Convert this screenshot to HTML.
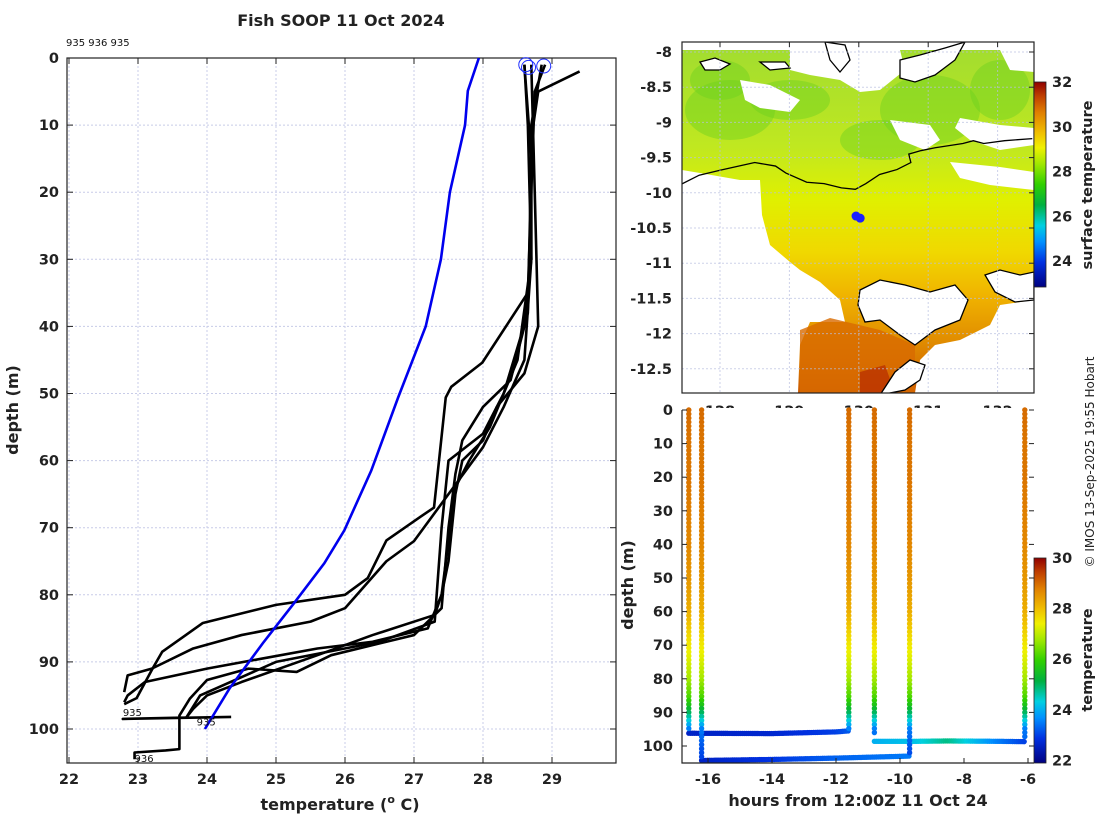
<!DOCTYPE html>
<html><head><meta charset="utf-8">
<style>
html,body{margin:0;padding:0;background:#fff;}
svg{display:block;font-family:"DejaVu Sans","Liberation Sans",sans-serif;}
.tk{font-size:14.5px;font-weight:bold;fill:#222;}
.ttl{font-size:16px;font-weight:bold;fill:#222;}
</style></head>
<body>
<svg id="fig" width="1100" height="820" viewBox="0 0 1100 820" xmlns="http://www.w3.org/2000/svg">
<defs>
<linearGradient id="cbgrad" x1="0" y1="1" x2="0" y2="0">
<stop offset="0" stop-color="#000080"/><stop offset="0.12" stop-color="#0030e0"/><stop offset="0.22" stop-color="#0090ff"/>
<stop offset="0.3" stop-color="#00d0e0"/><stop offset="0.4" stop-color="#00b040"/><stop offset="0.5" stop-color="#30d000"/>
<stop offset="0.6" stop-color="#a0e800"/><stop offset="0.68" stop-color="#f0f000"/><stop offset="0.75" stop-color="#f0c000"/>
<stop offset="0.85" stop-color="#e08000"/><stop offset="0.93" stop-color="#c04000"/><stop offset="1" stop-color="#900000"/>
</linearGradient>
<linearGradient id="sstgrad" x1="0" y1="0" x2="0" y2="1">
<stop offset="0" stop-color="#a0dc30"/><stop offset="0.3" stop-color="#c0e820"/><stop offset="0.45" stop-color="#e0f000"/>
<stop offset="0.6" stop-color="#f0d800"/><stop offset="0.72" stop-color="#f0b400"/><stop offset="0.86" stop-color="#e08a00"/><stop offset="1" stop-color="#cc5a00"/>
</linearGradient>
<clipPath id="mapclip"><rect x="682" y="42" width="352" height="351"/></clipPath>
</defs>
<g id="left"></g>
<g id="map"></g>
<g id="bot"></g>
<text x="341" y="26" text-anchor="middle" class="ttl">Fish SOOP 11 Oct 2024</text>
<text x="66" y="46" font-size="10" fill="#111">935 936 935</text>
<text transform="translate(1094,462) rotate(-90)" text-anchor="middle" font-size="12" fill="#222">© IMOS 13-Sep-2025 19:55 Hobart</text>
</svg>
<script>
// ---------- data: left panel ----------
const xTicksL = [22,23,24,25,26,27,28,29];
const yTicksL = [0,10,20,30,40,50,60,70,80,90,100];
const climTemp = [27.94,27.78,27.74,27.52,27.39,27.17,26.77,26.38,25.99,25.7,25.25,24.81,24.33,23.97];
const climDepth = [0,4.9,10,20,30,40,50.6,61.5,70.4,75.3,81.4,87.2,93.9,100];
const prof1T = [28.9,28.75,28.7,28.65,27.99,27.54,27.46,27.29,27.09,26.6,26.33,26.0,25.0,23.94,23.35,23.2,22.98,22.8];
const prof1D = [1,5,20,35,45.4,49,50.6,67,68.4,71.9,77.5,80,81.5,84.2,88.5,91.2,95.4,96.3];
const prof2T = [28.6,28.65,28.7,28.6,28.4,28.0,27.7,27.6,27.5,27.45,27.4,27.0,25.8,25.3,24.6,24.0,23.75,23.6,23.6,23.4,22.95,22.95];
const prof2D = [1,10,30,40,48,52,57,62,70,76,82,86,89,91.5,91,92.7,95.5,98,103,103.2,103.5,104.5];
const prof3T = [28.85,28.7,28.7,28.5,28.1,27.8,27.6,27.4,27.2,26.4,25.6,24.8,24.0,23.1,22.85,22.8];
const prof3D = [1,10,30,45,55,60,64,80,85,87,88,89.5,91,93,95,96];
const prof4T = [28.7,28.75,28.8,28.6,28.2,28.0,27.7,27.6,27.5,27.4,27.3,26.4,25.6,24.5,24.0,23.8,23.7];
const prof4D = [1,20,40,47,52,57,60,65,75,80,83,86,89,93,95,97,98.3];
const prof5T = [29.4,28.8,28.7,28.7,28.6,28.3,28.0,27.5,27.0,26.6,26.0,25.5,24.5,23.8,23.2,22.85,22.8];
const prof5D = [2,5,12,30,45,52,58,65,72,75,82,84,86,88,91,92,94.5];
const prof6T = [28.6,28.7,28.65,28.3,28.0,27.5,27.4,27.3,26.5,25.0,23.9,23.7,22.78,24.35];
const prof6D = [1,15,38,50,56,60,70,84,87,90,95,98.3,98.5,98.2];
const circT = [28.62,28.66,28.88];
const circD = [1.0,1.4,1.2];

// ---------- data: map ----------
const latTicks = [-8,-8.5,-9,-9.5,-10,-10.5,-11,-11.5,-12,-12.5];
const lonTicks = [128,129,130,131,132];
const coastLon = [127.1,127.4,127.7,128.0,128.5,128.8,128.95,129.25,129.5,129.75,129.95,130.1,130.3,130.55,130.75,130.72,130.9,131.1,131.5,131.65,131.8,132.1,132.5];
const coastLat = [-10.08,-9.9,-9.75,-9.68,-9.57,-9.62,-9.72,-9.85,-9.87,-9.93,-9.95,-9.87,-9.74,-9.67,-9.57,-9.45,-9.4,-9.36,-9.3,-9.26,-9.3,-9.26,-9.23];
const shipLon = [129.96,130.02];
const shipLat = [-10.33,-10.36];
const sstTicks = [24,26,28,30,32];
const sstMin = 22.85, sstMax = 32;

// ---------- data: bottom panel ----------
const hourTicks = [-16,-14,-12,-10,-8,-6];
const yTicksB = [0,10,20,30,40,50,60,70,80,90,100];
const castHours = [-16.6,-16.2,-11.6,-10.8,-9.7,-6.1];
const castMaxDepth = [95,104,95,97,103,98];
const profDepths = [0,10,20,30,40,50,60,70,75,80,85,88,90,93,95,100,104];
const profTemps = [29.0,28.9,28.9,28.8,28.7,28.5,28.2,27.5,27.2,26.8,26.2,25.6,25.0,24.2,23.5,23.2,23.0];
const tow1H = [-16.6,-14,-12,-11.6]; const tow1D = [96.2,96.3,95.8,95.5]; const tow1T = [22.6,22.7,23.0,23.2];
const tow2H = [-16.2,-14,-12,-9.7];  const tow2D = [104.3,104,103.6,103];  const tow2T = [22.6,22.9,23.3,23.5];
const tow3H = [-10.8,-9.5,-8.5,-7,-6.1]; const tow3D = [98.6,98.6,98.5,98.6,98.7]; const tow3T = [24.0,24.2,24.8,23.6,23.0];
const tMinB = 21.9, tMaxB = 30;
const cbTicksB = [22,24,26,28,30];

const NS = "http://www.w3.org/2000/svg";
function mk(parent, tag, attrs){const e=document.createElementNS(NS,tag);for(const k in attrs)e.setAttribute(k,attrs[k]);parent.appendChild(e);return e;}

const cmStops=[[0,[0,0,128]],[0.12,[0,48,224]],[0.22,[0,144,255]],[0.3,[0,208,224]],[0.4,[0,176,64]],[0.5,[48,208,0]],[0.6,[160,232,0]],[0.68,[240,240,0]],[0.75,[240,192,0]],[0.85,[224,128,0]],[0.93,[192,64,0]],[1,[144,0,0]]];
function cmap(f){f=Math.max(0,Math.min(1,f));for(let i=1;i<cmStops.length;i++){if(f<=cmStops[i][0]){const a=cmStops[i-1],b=cmStops[i];const u=(f-a[0])/(b[0]-a[0]);const c=a[1].map((v,j)=>Math.round(v+(b[1][j]-v)*u));return `rgb(${c[0]},${c[1]},${c[2]})`;}}return 'rgb(144,0,0)';}
function interp(xs,ys,x){if(x<=xs[0])return ys[0];for(let i=1;i<xs.length;i++){if(x<=xs[i]){const u=(x-xs[i-1])/(xs[i]-xs[i-1]);return ys[i-1]+u*(ys[i]-ys[i-1]);}}return ys[ys.length-1];}

// ===== LEFT PANEL =====
const L=document.getElementById('left');
const lx=t=>69+(t-22)*69, ly=d=>58+d*6.71;
const LX0=67,LX1=616,LY0=58,LY1=763;
xTicksL.forEach(t=>{
  const g=mk(L,'line',{x1:lx(t),x2:lx(t),y1:LY0,y2:LY1,stroke:'#c8cce8','stroke-dasharray':'2,2','stroke-width':1});
  
  
  const tk=mk(L,'line',{x1:lx(t),x2:lx(t),y1:LY1,y2:LY1-6,stroke:'#222'});
  
  
  const tk2=mk(L,'line',{x1:lx(t),x2:lx(t),y1:LY0,y2:LY0+6,stroke:'#222'});
  
  
  const tx=mk(L,'text',{x:lx(t),y:784,'text-anchor':'middle',class:'tk'});tx.textContent=t;
  
  
});
yTicksL.forEach(d=>{
  const g=mk(L,'line',{x1:LX0,x2:LX1,y1:ly(d),y2:ly(d),stroke:'#c8cce8','stroke-dasharray':'2,2','stroke-width':1});
  
  
  const tk=mk(L,'line',{x1:LX0,x2:LX0+6,y1:ly(d),y2:ly(d),stroke:'#222'});
  
  
  const tk2=mk(L,'line',{x1:LX1,x2:LX1-6,y1:ly(d),y2:ly(d),stroke:'#222'});
  
  
  const tx=mk(L,'text',{x:59,y:ly(d)+5,'text-anchor':'end',class:'tk'});tx.textContent=d;
  
  
});
const lb=mk(L,'rect',{x:LX0,y:LY0,width:LX1-LX0,height:LY1-LY0,fill:'none',stroke:'#222','stroke-width':1.2});


const profs=[[prof1T,prof1D],[prof2T,prof2D],[prof3T,prof3D],[prof4T,prof4D],[prof5T,prof5D],[prof6T,prof6D]];
profs.forEach((p,i)=>{
  const pts=p[0].map((t,j)=>lx(t)+','+ly(p[1][j])).join(' ');
  const pl=mk(L,'polyline',{points:pts,fill:'none',stroke:'#000','stroke-width':2.6,'stroke-linejoin':'round'});
  
  
});
const cl=mk(L,'polyline',{points:climTemp.map((t,j)=>lx(t)+','+ly(climDepth[j])).join(' '),fill:'none',stroke:'#0000ee','stroke-width':2.6});


circT.forEach((t,i)=>{
  const c=mk(L,'circle',{cx:lx(t),cy:ly(circD[i]),r:7,fill:'none',stroke:'#2030ff','stroke-width':1});
  
  
});
[[lx(22.78),ly(96.3)+12,'935'],[lx(23.85),ly(98.3)+8,'935'],[lx(22.95),ly(104.3)+4,'936']].forEach(a=>{
  const t=mk(L,'text',{x:a[0],y:a[1],'font-size':10,fill:'#111'});t.textContent=a[2];
  
  
});
let t1=mk(L,'text',{transform:'translate(18,410) rotate(-90)','text-anchor':'middle',class:'ttl'});t1.textContent='depth (m)';


let t2=mk(L,'text',{x:340,y:810,'text-anchor':'middle',class:'ttl'});
t2.innerHTML='temperature (<tspan font-size="11" dy="-7">o</tspan><tspan dy="7"> C)</tspan>';



// ===== MAP PANEL =====
const M=document.getElementById('map');
const mx=lon=>720+(lon-128)*69.4, my=lat=>52+(-8-lat)*70.4;
const MX0=682,MX1=1034,MY0=42,MY1=393;
const mg=mk(M,'g',{'clip-path':'url(#mapclip)'});


mk(mg,'rect',{x:MX0,y:MY0,width:352,height:351,fill:'url(#sstgrad)'});
// greener mottled patches
[[730,110,45,30],[790,100,40,20],[930,110,50,35],[1000,90,30,30],[880,140,40,20],[720,80,30,20]].forEach(e=>mk(mg,'ellipse',{cx:e[0],cy:e[1],rx:e[2],ry:e[3],fill:'#6cd020',opacity:0.45}));
const whites=[
 [[682,170],[700,173],[740,180],[760,180],[762,215],[770,245],[790,262],[800,270],[820,282],[840,300],[845,322],[810,322],[800,345],[798,393],[682,393]],
 [[682,42],[1034,42],[1034,50],[682,50]],
 [[790,50],[900,50],[905,70],[880,90],[860,92],[840,80],[810,75],[790,70]],
 [[740,80],[770,85],[800,100],[790,112],[760,108],[745,100]],
 [[960,118],[1000,125],[1034,128],[1034,145],[1000,150],[970,140],[955,128]],
 [[890,120],[930,125],[940,140],[925,150],[900,140]],
 [[1000,50],[1034,50],[1034,72],[1010,70]],
 [[950,162],[1000,167],[1034,172],[1034,190],[990,185],[960,178]],
 [[1034,300],[1000,305],[990,325],[960,340],[935,345],[920,360],[915,393],[1034,393]],
 [[700,185],[715,200],[705,205]]
];
whites.forEach(p=>mk(mg,'polygon',{points:p.map(a=>a.join(',')).join(' '),fill:'#fff'}));
mk(mg,'polygon',{points:'800,330 830,318 880,330 915,345 915,393 800,393',fill:'#d86a00',opacity:0.8});
mk(mg,'polygon',{points:'860,372 885,365 892,385 880,393 860,393',fill:'#b02000',opacity:0.6});
const islands=[
 [[860,290],[880,280],[905,285],[930,292],[955,285],[968,300],[960,320],[935,330],[915,345],[900,335],[880,320],[865,322],[858,305]],
 [[985,275],[1000,270],[1020,275],[1034,272],[1034,300],[1015,302],[995,292]],
 [[880,395],[895,372],[910,360],[925,365],[920,380],[905,390]],
 [[900,60],[920,55],[945,48],[965,42],[955,60],[935,75],[915,82],[900,78]],
 [[700,62],[715,58],[730,64],[720,70],[705,70]],
 [[760,62],[785,62],[790,68],[770,70]],
 [[825,42],[845,45],[850,60],[840,72],[830,60]]
];
islands.forEach(p=>{const e=mk(mg,'polygon',{points:p.map(a=>a.join(',')).join(' '),fill:'#fff',stroke:'#000','stroke-width':1.3});
 
 });
const coast=mk(mg,'polyline',{points:coastLon.map((lo,i)=>mx(lo)+','+my(coastLat[i])).join(' '),fill:'none',stroke:'#000','stroke-width':1.3});


latTicks.forEach(la=>{
  const g=mk(M,'line',{x1:MX0,x2:MX1,y1:my(la),y2:my(la),stroke:'#b8c0e0','stroke-dasharray':'2,2',opacity:0.7});
  
  
  const tk=mk(M,'line',{x1:MX1,x2:MX1-5,y1:my(la),y2:my(la),stroke:'#222'});
  
  
  const tx=mk(M,'text',{x:672,y:my(la)+5,'text-anchor':'end',class:'tk'});tx.textContent=la;
  
  
});
lonTicks.forEach(lo=>{
  const g=mk(M,'line',{x1:mx(lo),x2:mx(lo),y1:MY0,y2:MY1,stroke:'#b8c0e0','stroke-dasharray':'2,2',opacity:0.7});
  
  
  const tk=mk(M,'line',{x1:mx(lo),x2:mx(lo),y1:MY0,y2:MY0+5,stroke:'#222'});
  
  
  const tx=mk(M,'text',{x:mx(lo),y:416,'text-anchor':'middle',class:'tk'});tx.textContent=lo;
  
  
});
shipLon.forEach((lo,i)=>{const c=mk(M,'circle',{cx:mx(lo),cy:my(shipLat[i]),r:4.5,fill:'#1a20ff'});
 
 });
const mf=mk(M,'rect',{x:MX0,y:MY0,width:352,height:351,fill:'none',stroke:'#222','stroke-width':1.2});


const sy=v=>82+(sstMax-v)/(sstMax-sstMin)*205;
const cb=mk(M,'rect',{x:1034,y:82,width:12,height:205,fill:'url(#cbgrad)',stroke:'#222','stroke-width':0.8});


sstTicks.forEach(v=>{const tx=mk(M,'text',{x:1052,y:sy(v)+5,class:'tk'});tx.textContent=v;
 
 });
let t3=mk(M,'text',{transform:'translate(1092,185) rotate(-90)','text-anchor':'middle',class:'tk'});t3.textContent='surface temperature';



// ===== BOTTOM PANEL =====
const B=document.getElementById('bot');
const bx=h=>708+(h+16)*32, by=d=>410+d*3.36;
const BX0=682,BX1=1034,BY0=408,BY1=763;
mk(B,'rect',{x:BX0,y:BY0,width:352,height:BY1-BY0,fill:'#fff'});
const bcol=t=>cmap((t-tMinB)/(tMaxB-tMinB));
function dot(h,d,t,name){const c=mk(B,'circle',{cx:bx(h),cy:by(d),r:2.7,fill:bcol(t)});
 
 }
[[tow1H,tow1D,tow1T],[tow2H,tow2D,tow2T],[tow3H,tow3D,tow3T]].forEach((tw,k)=>{
  for(let h=tw[0][0];h<=tw[0][tw[0].length-1];h+=0.06){dot(h,interp(tw[0],tw[1],h),interp(tw[0],tw[2],h),'tow-point-'+(k+1));}
});
castHours.forEach((h,k)=>{
  for(let d=0;d<=castMaxDepth[k];d+=1.2){dot(h,d,interp(profDepths,profTemps,d),'cast-point-'+(k+1));}
});
hourTicks.forEach(h=>{
  const tk=mk(B,'line',{x1:bx(h),x2:bx(h),y1:BY1,y2:BY1-5,stroke:'#222'});
  
  
  const tx=mk(B,'text',{x:bx(h),y:784,'text-anchor':'middle',class:'tk'});tx.textContent=h;
  
  
});
yTicksB.forEach(d=>{
  const tk=mk(B,'line',{x1:BX0,x2:BX0+5,y1:by(d),y2:by(d),stroke:'#222'});
  
  
  const tk2=mk(B,'line',{x1:BX1,x2:BX1-5,y1:by(d),y2:by(d),stroke:'#222'});
  
  
  const tx=mk(B,'text',{x:673,y:by(d)+5,'text-anchor':'end',class:'tk'});tx.textContent=d;
  
  
});
const bl=mk(B,'path',{d:`M${BX0},${BY0+2} V${BY1} H${BX1}`,fill:'none',stroke:'#222','stroke-width':1.2});


const ty=v=>558+(tMaxB-v)/(tMaxB-tMinB)*205;
const cb2=mk(B,'rect',{x:1034,y:558,width:12,height:205,fill:'url(#cbgrad)',stroke:'#222','stroke-width':0.8});


cbTicksB.forEach(v=>{const tx=mk(B,'text',{x:1052,y:ty(v)+5,class:'tk'});tx.textContent=v;
 
 });
let t4=mk(B,'text',{transform:'translate(1092,660) rotate(-90)','text-anchor':'middle',class:'tk'});t4.textContent='temperature';


let t5=mk(B,'text',{transform:'translate(633,585) rotate(-90)','text-anchor':'middle',class:'ttl'});t5.textContent='depth (m)';


let t6=mk(B,'text',{x:858,y:806,'text-anchor':'middle',class:'ttl'});t6.textContent='hours from 12:00Z 11 Oct 24';


</script>
</body></html>
